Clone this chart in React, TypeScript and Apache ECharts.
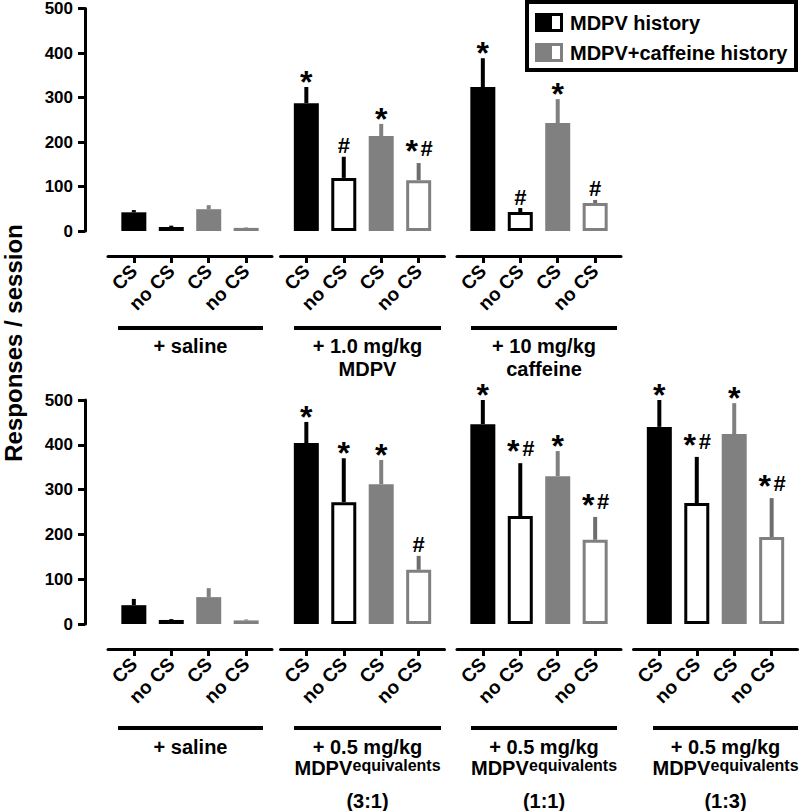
import React, { useEffect, useRef } from "react";
import * as echarts from "echarts";

const FONT = '"Liberation Sans", Arial, Helvetica, sans-serif';

// ---------- data ----------
const categories = ["CS", "no CS", "CS", "no CS"];
const yTicks = [0, 100, 200, 300, 400, 500];
const legendNames = ["MDPV history", "MDPV+caffeine history"];
const yTitle = "Responses / session";

const topSalineMean = [42, 9, 49, 7];
const topSalineErr = [5, 3, 9, 1];
const topSalineMarks = ["", "", "", ""];

const topMdpvMean = [284, 118, 211, 113];
const topMdpvErr = [36, 47, 27, 38];
const topMdpvMarks = ["*", "#", "*", "*#"];

const topCaffMean = [320, 42, 240, 62];
const topCaffErr = [64, 9, 53, 7];
const topCaffMarks = ["*", "#", "*", "#"];

const botSalineMean = [42, 9, 60, 8];
const botSalineErr = [14, 2, 20, 2];
const botSalineMarks = ["", "", "", ""];

const bot31Mean = [404, 272, 312, 121];
const bot31Err = [47, 98, 54, 31];
const bot31Marks = ["*", "*", "*", "#"];

const bot11Mean = [446, 241, 330, 188];
const bot11Err = [54, 118, 56, 51];
const bot11Marks = ["*", "*#", "*", "*#"];

const bot13Mean = [440, 270, 424, 194];
const bot13Err = [60, 103, 69, 87];
const bot13Marks = ["*", "*#", "*", "*#"];

// group labels: [line1, line2 main, line2 superscript, line3]
const groupLabels = [
  ["+ saline", "", "", ""],
  ["+ 1.0 mg/kg", "MDPV", "", ""],
  ["+ 10 mg/kg", "caffeine", "", ""],
  ["+ saline", "", "", ""],
  ["+ 0.5 mg/kg", "MDPV", "equivalents", "(3:1)"],
  ["+ 0.5 mg/kg", "MDPV", "equivalents", "(1:1)"],
  ["+ 0.5 mg/kg", "MDPV", "equivalents", "(1:3)"],
];

const panels = [
  { row: 0, mean: topSalineMean, err: topSalineErr, marks: topSalineMarks },
  { row: 0, mean: topMdpvMean, err: topMdpvErr, marks: topMdpvMarks },
  { row: 0, mean: topCaffMean, err: topCaffErr, marks: topCaffMarks },
  { row: 1, mean: botSalineMean, err: botSalineErr, marks: botSalineMarks },
  { row: 1, mean: bot31Mean, err: bot31Err, marks: bot31Marks },
  { row: 1, mean: bot11Mean, err: bot11Err, marks: bot11Marks },
  { row: 1, mean: bot13Mean, err: bot13Err, marks: bot13Marks },
];

// ---------- layout / style ----------
const ROW_TOP = [6, 400];
const ROW_H = [225, 224];
const GRID_W = 164;
const PANEL_LEFT = [108, 280.5, 457, 108, 280.5, 457, 633.5];
const BRACKETS = [
  [118, 263], [294, 441], [471, 617],
  [118, 263], [294, 441], [471, 617], [653, 798],
];
const BRACKET_Y = [328, 728];
const LABEL_Y = [[346, 369, 0], [747, 768, 801]];
const BAR_W = 25;
const GRAY = "#808080";
const barFill = ["#000", "#fff", GRAY, "#fff"];
const barStroke = ["", "#000", "", GRAY];
const errColor = ["#000", "#000", GRAY, "#6e6e6e"];

function makeRenderItem(marks: string[]) {
  return (params: any, api: any) => {
    const k = api.value(0);
    const m = api.value(1);
    const e = api.value(2);
    const p0 = api.coord([k, 0]);
    const p1 = api.coord([k, m]);
    const p2 = api.coord([k, m + e]);
    const cx = p0[0];
    const children: any[] = [];
    children.push({
      type: "line",
      shape: { x1: cx, y1: p1[1], x2: cx, y2: p2[1] },
      style: { stroke: errColor[k], lineWidth: 4 },
    });
    if (barStroke[k]) {
      children.push({
        type: "rect",
        shape: {
          x: cx - BAR_W / 2 + 1.5,
          y: p1[1] + 1.5,
          width: BAR_W - 3,
          height: Math.max(p0[1] - p1[1] - 3, 0),
        },
        style: { fill: "#fff", stroke: barStroke[k], lineWidth: 3 },
      });
    } else {
      children.push({
        type: "rect",
        shape: { x: cx - BAR_W / 2, y: p1[1], width: BAR_W, height: p0[1] - p1[1] },
        style: { fill: barFill[k] },
      });
    }
    const mk = marks[params.dataIndex] || "";
    const star = (x: number, y: number) => ({
      type: "text",
      x,
      y,
      style: {
        text: "*",
        fill: "#000",
        fontSize: 32,
        fontWeight: "bold",
        fontFamily: FONT,
        align: "center",
        verticalAlign: "middle",
      },
    });
    const hash = (x: number, y: number) => ({
      type: "text",
      x,
      y,
      style: {
        text: "#",
        fill: "#000",
        fontSize: 22,
        fontWeight: "bold",
        fontFamily: FONT,
        align: "center",
        verticalAlign: "middle",
      },
    });
    if (mk === "*") children.push(star(cx, p2[1] - 5));
    else if (mk === "#") children.push(hash(cx, p2[1] - 11));
    else if (mk === "*#") {
      children.push(star(cx - 7, p2[1] - 12));
      children.push(hash(cx + 8, p2[1] - 15));
    }
    return { type: "group", children };
  };
}

export default function App() {
  const ref = useRef<HTMLDivElement>(null);
  useEffect(() => {
    if (!ref.current) return;
    const chart = echarts.init(ref.current, undefined, { renderer: "svg" });

    const grid = panels.map((p, i) => ({
      left: PANEL_LEFT[i],
      top: ROW_TOP[p.row],
      width: GRID_W,
      height: ROW_H[p.row],
    }));

    const xAxis = panels.map((p, i) => ({
      type: "value",
      gridIndex: i,
      min: -0.69,
      max: 3.69,
      position: "bottom",
      offset: 25,
      splitLine: { show: false },
      axisLine: { show: true, onZero: false, lineStyle: { color: "#000", width: 3 } },
      axisTick: {
        show: true,
        customValues: [0, 1, 2, 3],
        length: 7,
        lineStyle: { color: "#000", width: 3 },
      },
      axisLabel: {
        show: true,
        customValues: [0, 1, 2, 3],
        formatter: (v: number) => categories[Math.round(v)] ?? "",
        rotate: 45,
        margin: 12,
        color: "#000",
        fontSize: 19,
        fontWeight: "bold",
        fontFamily: FONT,
      },
    }));

    const yAxis = panels.map((p, i) => {
      const shown = i === 0 || i === 3;
      return {
        type: "value",
        gridIndex: i,
        min: yTicks[0],
        max: yTicks[yTicks.length - 1],
        interval: 100,
        show: shown,
        offset: 23,
        splitLine: { show: false },
        axisLine: { show: true, onZero: false, lineStyle: { color: "#000", width: 3 } },
        axisTick: { show: true, length: 7, lineStyle: { color: "#000", width: 3 } },
        axisLabel: {
          margin: 12,
          color: "#000",
          fontSize: 17,
          fontWeight: "bold",
          fontFamily: FONT,
        },
      };
    });

    const series = panels.map((p, i) => ({
      type: "custom",
      xAxisIndex: i,
      yAxisIndex: i,
      clip: false,
      data: p.mean.map((m, k) => [k, m, p.err[k]]),
      renderItem: makeRenderItem(p.marks),
    }));

    const txt = (text: string, x: number, y: number, size: number, align = "center") => ({
      type: "text",
      x,
      y,
      style: {
        text,
        fill: "#000",
        fontSize: size,
        fontWeight: "bold",
        fontFamily: FONT,
        align,
        verticalAlign: "middle",
      },
    });

    const graphic: any[] = [];
    panels.forEach((p, i) => {
      const [x1, x2] = BRACKETS[i];
      const cx = (x1 + x2) / 2;
      const ly = LABEL_Y[p.row];
      graphic.push({
        type: "line",
        shape: { x1, y1: BRACKET_Y[p.row], x2, y2: BRACKET_Y[p.row] },
        style: { stroke: "#000", lineWidth: 4 },
      });
      const [l1, l2, sup, l3] = groupLabels[i];
      graphic.push(txt(l1, cx, ly[0], 20));
      if (l2 && !sup) graphic.push(txt(l2, cx, ly[1], 20));
      if (l2 && sup) {
        const start = cx - 73;
        graphic.push(txt(l2, start, ly[1], 20, "left"));
        graphic.push(txt(sup, start + 58, ly[1] - 3, 16, "left"));
      }
      if (l3) graphic.push(txt(l3, cx, ly[2], 20));
    });
    graphic.push({
      type: "text",
      x: 13,
      y: 343,
      rotation: Math.PI / 2,
      style: {
        text: yTitle,
        fill: "#000",
        fontSize: 24,
        fontWeight: "bold",
        fontFamily: FONT,
        align: "center",
        verticalAlign: "middle",
      },
    });
    graphic.push({
      type: "rect",
      shape: { x: 527, y: 2, width: 269, height: 68 },
      style: { fill: "#fff", stroke: "#000", lineWidth: 4 },
    });
    const legendColors = ["#000", GRAY];
    const legendY = [13, 43];
    legendNames.forEach((name, j) => {
      graphic.push({
        type: "rect",
        shape: { x: 535, y: legendY[j], width: 28, height: 19 },
        style: { fill: legendColors[j] },
      });
      graphic.push({
        type: "rect",
        shape: { x: 552, y: legendY[j] + 3, width: 8, height: 13 },
        style: { fill: "#fff" },
      });
      graphic.push(txt(name, 570, legendY[j] + 10, 20, "left"));
    });

    chart.setOption({
      animation: false,
      backgroundColor: "#fff",
      grid,
      xAxis,
      yAxis,
      series,
      graphic,
    } as any);

    return () => chart.dispose();
  }, []);

  return (
    <div
      ref={ref}
      style={{ position: "fixed", left: 0, top: 0, width: 800, height: 811, background: "#fff" }}
    />
  );
}
